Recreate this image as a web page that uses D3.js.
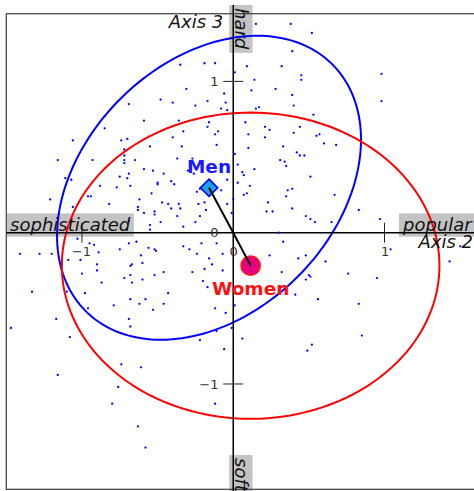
<!DOCTYPE html>
<html>
<head>
<meta charset="utf-8">
<script src="https://cdn.jsdelivr.net/npm/d3@7"></script>
<style>
  html, body { margin: 0; padding: 0; background: #fff; }
  svg { display: block; font-family: "DejaVu Sans", sans-serif; }
</style>
</head>
<body>
<svg id="chart" width="474" height="491"></svg>
<script>
// Individuals projected on the plane of axes 2 and 3
const individuals = [
  [0.15,1.38],[0.38,1.38],[0.52,1.32],[0.39,1.20],[-0.35,1.11],[-0.19,1.12],[-0.12,1.12],[0.09,1.10],
  [0.32,1.10],[0.01,1.06],[0.45,1.04],[0.45,1.01],[0.14,1.01],[0.98,1.05],[0.98,0.87],[-0.31,0.95],
  [-0.06,0.92],[0.12,0.94],[0.28,0.95],[0.39,0.91],[-0.48,0.88],[-0.40,0.86],[-0.25,0.84],[-0.17,0.87],
  [-0.05,0.86],[-0.08,0.82],[-0.04,0.81],[0.17,0.83],[0.15,0.82],[0.40,0.84],[0.53,0.78],[-0.69,0.85],
  [-0.85,0.69],[-0.59,0.74],[-0.36,0.74],[-0.16,0.73],[-0.17,0.70],[0.08,0.73],[0.21,0.70],[0.24,0.68],
  [0.44,0.70],[0.40,0.66],[-1.06,0.61],[-0.70,0.62],[-0.74,0.61],[-0.40,0.63],[-0.33,0.67],[-0.12,0.65],
  [-0.10,0.67],[0.10,0.65],[0.21,0.63],[0.55,0.64],[0.57,0.65],[0.60,0.59],[0.68,0.58],[-0.72,0.55],
  [-0.55,0.57],[-0.34,0.57],[-0.11,0.58],[0.10,0.56],[0.33,0.57],[0.42,0.53],[0.44,0.51],[0.47,0.51],
  [-0.72,0.51],[-0.72,0.48],[-0.72,0.46],[-0.65,0.48],[-0.37,0.49],[-0.27,0.49],[0.01,0.52],[0.31,0.48],
  [0.34,0.47],[0.35,0.44],[-1.16,0.48],[-0.93,0.48],[-0.59,0.42],[-0.53,0.41],[-0.46,0.39],[-0.41,0.34],
  [-0.39,0.32],[-0.30,0.41],[-0.26,0.39],[0.03,0.45],[0.06,0.40],[0.07,0.38],[0.14,0.42],[-0.04,0.35],
  [0.03,0.33],[-1.11,0.36],[-1.07,0.35],[-0.75,0.37],[-0.69,0.39],[-0.70,0.36],[-0.68,0.31],[-0.50,0.32],
  [0.11,0.31],[-0.88,0.31],[-0.77,0.30],[-0.54,0.26],[-0.22,0.29],[-0.24,0.27],[-0.08,0.28],[0.09,0.26],
  [0.07,0.25],[0.35,0.24],[0.36,0.28],[0.39,0.29],[0.51,0.37],[0.67,0.25],[-1.21,0.22],[-0.96,0.24],
  [-0.94,0.24],[-0.62,0.22],[-0.47,0.20],[-0.43,0.19],[-0.41,0.16],[-0.36,0.19],[-0.35,0.16],[-0.23,0.19],
  [-0.19,0.20],[-0.18,0.15],[-0.04,0.19],[0.00,0.22],[0.23,0.20],[0.22,0.14],[0.26,0.14],[0.39,0.16],
  [0.83,0.15],[-1.06,0.17],[-0.82,0.19],[-0.63,0.17],[-0.63,0.15],[-0.59,0.13],[-0.52,0.14],[-0.52,0.12],
  [-0.37,0.11],[-0.22,0.11],[-0.01,0.13],[0.48,0.11],[0.51,0.09],[0.54,0.07],[0.65,0.07],[-0.69,0.08],
  [-0.55,0.05],[-0.55,0.02],[-0.48,0.07],[-0.33,0.04],[-0.25,0.07],[0.97,0.09],[0.30,0.00],[-0.50,0.33],
  [-1.41,-0.14],[-1.28,-0.14],[-1.20,-0.14],[-1.09,-0.18],[-1.01,-0.18],[-0.95,-0.07],[-0.92,-0.08],
  [-0.89,-0.13],[-0.90,-0.21],[-0.90,-0.25],[-0.87,-0.33],[-1.00,-0.27],[-0.98,-0.40],[-0.96,-0.50],
  [-1.10,-0.39],[-1.17,-0.57],[-1.08,-0.69],[-1.47,-0.63],[-1.33,-0.39],[-0.75,-0.11],[-0.69,-0.07],
  [-0.64,-0.06],[-0.56,-0.10],[-0.52,-0.11],[-0.51,-0.12],[-0.61,-0.15],[-0.60,-0.20],[-0.67,-0.21],
  [-0.68,-0.22],[-0.68,-0.28],[-0.72,-0.30],[-0.67,-0.33],[-0.60,-0.31],[-0.52,-0.28],[-0.79,-0.48],
  [-0.68,-0.44],[-0.62,-0.47],[-0.58,-0.44],[-0.53,-0.51],[-0.69,-0.57],[-0.68,-0.62],[-0.74,-0.87],
  [-0.61,-0.89],[-1.16,-0.94],[-0.76,-1.02],[-0.80,-1.13],[-0.63,-1.28],[-0.58,-1.42],[-0.33,-0.09],
  [-0.29,-0.11],[-0.21,-0.07],[-0.24,-0.14],[-0.16,-0.17],[-0.14,-0.21],[-0.19,-0.24],[-0.11,-0.07],
  [-0.07,-0.14],[-0.07,-0.25],[-0.27,-0.26],[-0.46,-0.26],[-0.20,-0.32],[-0.17,-0.36],[-0.43,-0.40],
  [-0.46,-0.47],[-0.12,-0.50],[-0.05,-0.53],[0.01,-0.48],[-0.11,-0.65],[-0.22,-0.71],[-0.01,-0.63],
  [0.06,-0.70],[-0.06,-0.77],[-0.12,-1.13],[0.24,-0.15],[0.32,-0.26],[0.43,-0.17],[0.48,-0.15],
  [0.50,-0.28],[0.51,-0.29],[0.48,-0.31],[0.41,-0.41],[0.56,-0.44],[0.52,-0.74],[0.49,-0.78],
  [0.33,-0.06],[0.61,-0.19],[0.76,-0.27],[0.95,-0.30],[0.83,-0.47],[0.85,-0.68],[1.04,-0.11],
  [1.43,-0.19],[1.50,-0.09],[-1.03,-0.04]
];

// Group barycentres and their concentration ellipses
const groupNames  = ["Men", "Women"];
const groupX      = [-0.16, 0.115];
const groupY      = [0.297, -0.218];
const groupColors = ["#0000ff", "#ff0000"];
const ellipseRx   = [1.153, 1.248];
const ellipseRy   = [0.830, 1.012];
const ellipseTilt = [45, 0];

// Axis ticks and pole labels
const xTicks = [-1, 0, 1];
const yTicks = [-1, 0, 1];
const axisNames = ["Axis 2", "Axis 3"];
const poleNames = ["sophisticated", "popular", "hard", "soft"];

const svg = d3.select("#chart");
const x = d3.scaleLinear().domain([-1.5, 1.6]).range([6.3, 475.3]);
const y = d3.scaleLinear().domain([-1.7, 1.45]).range([489.9, 13.3]);
const x0 = x(0), y0 = y(0);
const fmt = d3.format("d");
const labelFont = "18px";

// grey boxes behind the pole labels
const poleLayer = svg.append("g");
const plotLayer = svg.append("g");
const textLayer = svg.append("g");

// frame
plotLayer.append("rect")
  .attr("x", x.range()[0]).attr("y", 13.7)
  .attr("width", 480).attr("height", 475.6)
  .attr("fill", "none").attr("stroke", "#4a4a4a").attr("stroke-width", 1.3);

// ellipses, drawn from their parameters in data space
const ellipseLine = d3.line().x(d => x(d[0])).y(d => y(d[1]));
const steps = d3.range(0, 361, 2).map(a => a * Math.PI / 180);
groupNames.forEach((g, i) => {
  const phi = ellipseTilt[i] * Math.PI / 180;
  const pts = steps.map(t => {
    const u = ellipseRx[i] * Math.cos(t), v = ellipseRy[i] * Math.sin(t);
    return [groupX[i] + u * Math.cos(phi) - v * Math.sin(phi),
            groupY[i] + u * Math.sin(phi) + v * Math.cos(phi)];
  });
  plotLayer.append("path")
    .attr("d", ellipseLine(pts))
    .attr("fill", "none")
    .attr("stroke", groupColors[i])
    .attr("stroke-width", 2);
});

// axes through the origin
plotLayer.append("line")
  .attr("x1", x.range()[0]).attr("x2", 474).attr("y1", y0).attr("y2", y0)
  .attr("stroke", "#000").attr("stroke-width", 1.5);
plotLayer.append("line")
  .attr("x1", x0).attr("x2", x0).attr("y1", 5).attr("y2", 491)
  .attr("stroke", "#000").attr("stroke-width", 1.5);

// ticks crossing the axes
plotLayer.selectAll(".xtick").data(xTicks.filter(v => v !== 0)).join("line")
  .attr("x1", d => x(d)).attr("x2", d => x(d))
  .attr("y1", y0 - 10).attr("y2", y0 + 10)
  .attr("stroke", "#222").attr("stroke-width", 1);
plotLayer.selectAll(".ytick").data(yTicks.filter(v => v !== 0)).join("line")
  .attr("y1", d => y(d)).attr("y2", d => y(d))
  .attr("x1", x0 - 10).attr("x2", x0 + 10)
  .attr("stroke", "#222").attr("stroke-width", 1);

plotLayer.selectAll(".xlab").data(xTicks).join("text")
  .attr("x", d => x(d) + (d < 0 ? -0.5 : 0.5)).attr("y", y0 + 23.5)
  .attr("text-anchor", "middle")
  .attr("font-size", "13px").attr("fill", "#333")
  .text(d => fmt(d));
plotLayer.selectAll(".ylab").data(yTicks).join("text")
  .attr("x", x0 - 14.8).attr("y", d => y(d)).attr("dy", "0.36em")
  .attr("text-anchor", "end")
  .attr("font-size", "13px").attr("fill", "#333")
  .text(d => fmt(d));

// individuals
plotLayer.selectAll(".ind").data(individuals).join("circle")
  .attr("cx", d => x(d[0])).attr("cy", d => y(d[1]))
  .attr("r", 1.15).attr("fill", "#0000ff");

// group markers
plotLayer.append("path")
  .attr("d", d3.symbol().type(d3.symbolSquare).size(150)())
  .attr("transform", `translate(${x(groupX[0])},${y(groupY[0])}) rotate(45)`)
  .attr("fill", "#1aa3e8").attr("stroke", "#0000e0").attr("stroke-width", 1.6);
plotLayer.append("circle")
  .attr("cx", x(groupX[1])).attr("cy", y(groupY[1])).attr("r", 9.6)
  .attr("fill", "#e6007e").attr("stroke", "#ff1a1a").attr("stroke-width", 1.6);

// segment joining the two barycentres through the origin
plotLayer.append("path")
  .attr("d", d3.line().x(d => x(d[0])).y(d => y(d[1]))([[groupX[0], groupY[0]], [0, 0], [groupX[1], groupY[1]]]))
  .attr("fill", "none").attr("stroke", "#000").attr("stroke-width", 2);

// group names
textLayer.selectAll(".gname").data(groupNames).join("text")
  .attr("x", (d, i) => x(groupX[i]))
  .attr("y", (d, i) => i === 0 ? y(groupY[i]) - 15 : y(groupY[i]) + 29.5)
  .attr("text-anchor", "middle")
  .attr("font-size", "18.5px").attr("font-weight", "bold")
  .attr("fill", (d, i) => i === 0 ? "#1a1aff" : "#ff1010")
  .text(d => d);

// axis titles
textLayer.append("text")
  .attr("x", 473).attr("y", y0 + 15.5).attr("text-anchor", "end")
  .attr("font-size", labelFont).attr("font-style", "italic").attr("fill", "#111")
  .text(axisNames[0]);
textLayer.append("text")
  .attr("x", x0 - 10).attr("y", 28).attr("text-anchor", "end")
  .attr("font-size", labelFont).attr("font-style", "italic").attr("fill", "#111")
  .text(axisNames[1]);

// pole labels with grey boxes
const poles = [
  { name: poleNames[0], tx: x.range()[0] + 3.8, ty: y0 - 2, rot: 0 },
  { name: poleNames[1], tx: 403, ty: y0 - 2, rot: 0 },
  { name: poleNames[2], tx: x0 + 2, ty: 8, rot: 90 },
  { name: poleNames[3], tx: x0 + 2, ty: 458, rot: 90 }
];
poles.forEach(p => {
  const gBox = poleLayer.append("g").attr("transform", `translate(${p.tx},${p.ty}) rotate(${p.rot})`);
  const gTxt = textLayer.append("g").attr("transform", `translate(${p.tx},${p.ty}) rotate(${p.rot})`);
  const t = gTxt.append("text")
    .attr("font-size", labelFont).attr("font-style", "italic").attr("fill", "#111")
    .text(p.name);
  const b = t.node().getBBox();
  gBox.append("rect")
    .attr("x", b.x - 3).attr("y", b.y - 0.3)
    .attr("width", b.width + 6).attr("height", b.height + 2.3)
    .attr("fill", "#c3c3c3");
});
</script>
</body>
</html>
